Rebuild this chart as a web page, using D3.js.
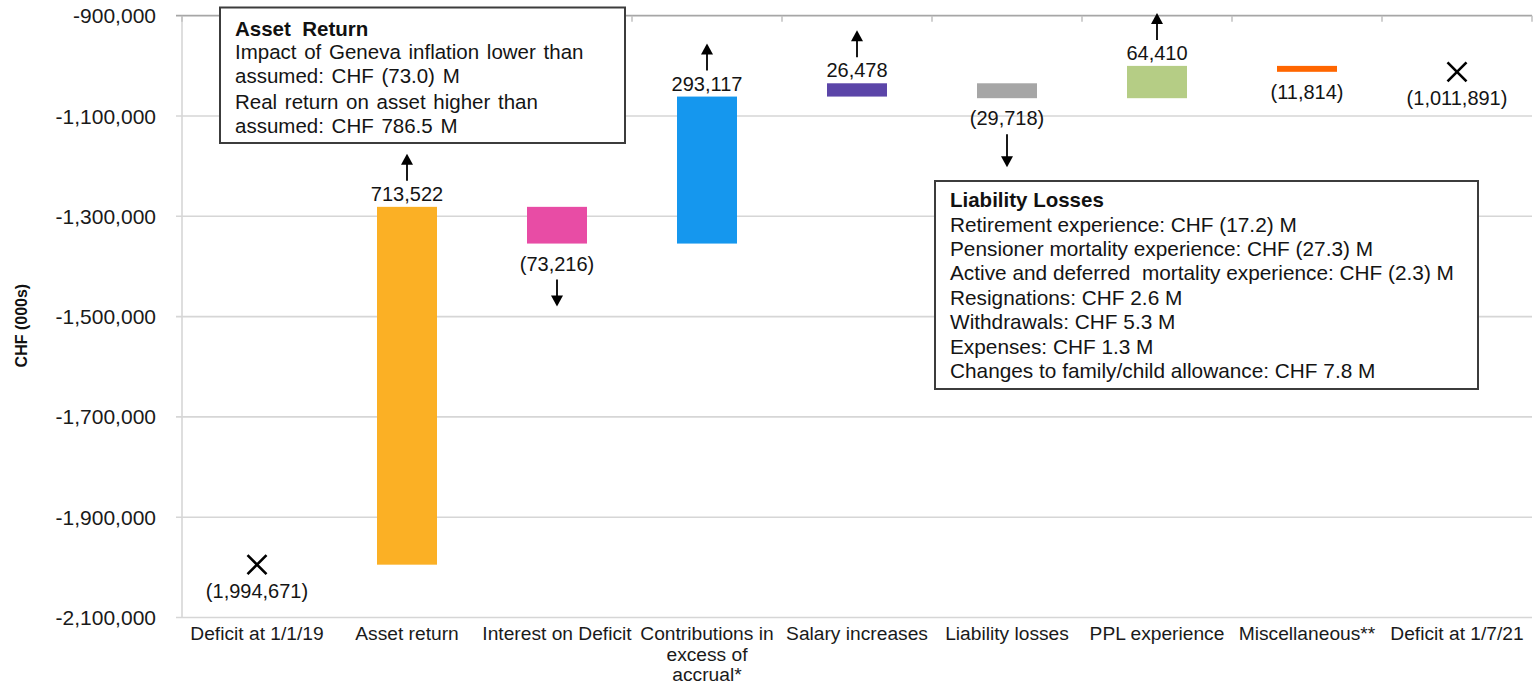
<!DOCTYPE html>
<html>
<head>
<meta charset="utf-8">
<script src="https://cdn.jsdelivr.net/npm/d3@7/dist/d3.min.js"></script>
<style>
  html, body { margin: 0; padding: 0; background: #fff; }
  svg { display: block; font-family: "Liberation Sans", Arial, sans-serif; }
  .pre { white-space: pre; }
</style>
</head>
<body>
<svg id="chart" width="1534" height="687"></svg>
<script>
// ---------------- data ----------------
const categories = [
  "Deficit at 1/1/19", "Asset return", "Interest on Deficit",
  "Contributions in\nexcess of\naccrual*", "Salary increases", "Liability losses",
  "PPL experience", "Miscellaneous**", "Deficit at 1/7/21"
];
const kinds = ["total", "step", "step", "step", "step", "step", "step", "step", "total"];
const values = [-1994671, 713522, -73216, 293117, 26478, -29718, 64410, -11814, -1011891];
const barColors = ["#000000", "#FBB025", "#E84CA5", "#1597EE", "#5B45A8", "#A6A6A6", "#B5CD85", "#FF6600", "#000000"];
const hasArrow = [false, true, true, true, true, true, true, false, false];
const yTicks = [-900000, -1100000, -1300000, -1500000, -1700000, -1900000, -2100000];
const yDomain = [-2100000, -900000];
const yTitle = "CHF (000s)";
const assetNoteTitle = "Asset  Return";
const assetNoteLines = [
  "Impact of Geneva inflation lower than",
  "assumed: CHF (73.0) M",
  "Real return on asset higher than",
  "assumed: CHF 786.5 M"
];
const liabNoteTitle = "Liability Losses";
const liabNoteLines = [
  "Retirement experience: CHF (17.2) M",
  "Pensioner mortality experience: CHF (27.3) M",
  "Active and deferred  mortality experience: CHF (2.3) M",
  "Resignations: CHF 2.6 M",
  "Withdrawals: CHF 5.3 M",
  "Expenses: CHF 1.3 M",
  "Changes to family/child allowance: CHF 7.8 M"
];

// ---------------- waterfall computation ----------------
let run = 0;
const rows = categories.map((c, i) => {
  const v = values[i];
  let start, end;
  if (kinds[i] === "total") { start = v; end = v; run = v; }
  else { start = run; end = run + v; run = end; }
  return { cat: c, v, start, end, kind: kinds[i], color: barColors[i], arrow: hasArrow[i] };
});

// ---------------- layout ----------------
const svg = d3.select("#chart");
const plotLeft = 182, plotRight = 1532, plotTop = 15.7, plotBottom = 617.5;

const x = d3.scaleBand().domain(categories).range([plotLeft, plotRight])
  .paddingInner(0.6).paddingOuter(0.3);
const y = d3.scaleLinear().domain(yDomain).range([plotBottom, plotTop]);

const loc = d3.formatLocale({ decimal: ".", thousands: ",", grouping: [3], currency: ["", ""], minus: "-" });
const fmt = loc.format(",");
const labelFmt = v => v < 0 ? "(" + fmt(-v) + ")" : fmt(v);

// gridlines + y tick marks
svg.append("g").selectAll("line").data(yTicks.filter(t => t !== yDomain[1])).join("line")
  .attr("x1", plotLeft - 6).attr("x2", plotRight)
  .attr("y1", d => y(d)).attr("y2", d => y(d))
  .attr("stroke", "#d6d6d6").attr("stroke-width", 1.6);

// vertical axis line
svg.append("line").attr("x1", plotLeft).attr("x2", plotLeft)
  .attr("y1", y(yDomain[1])).attr("y2", y(yDomain[0]))
  .attr("stroke", "#d6d6d6").attr("stroke-width", 1.6);

// category axis (sits at the top, max value)
const catAxisY = y(yDomain[1]);
svg.append("line").attr("x1", plotLeft - 6).attr("x2", plotRight)
  .attr("y1", catAxisY).attr("y2", catAxisY)
  .attr("stroke", "#a6a6a6").attr("stroke-width", 1.8);
const boundaries = d3.range(categories.length + 1).map(i => plotLeft + i * x.step());
svg.append("g").selectAll("line").data(boundaries).join("line")
  .attr("x1", d => d).attr("x2", d => d)
  .attr("y1", catAxisY).attr("y2", catAxisY + 6)
  .attr("stroke", "#c0c0c0").attr("stroke-width", 1.5);

// y tick labels
svg.append("g").selectAll("text").data(yTicks).join("text")
  .attr("x", 156).attr("y", d => y(d)).attr("dy", "0.36em")
  .attr("text-anchor", "end").attr("font-size", 21).attr("fill", "#1a1a1a")
  .text(d => fmt(d));

// y title
svg.append("text")
  .attr("transform", `translate(27,${(plotTop + plotBottom) / 2 + 9}) rotate(-90)`)
  .attr("text-anchor", "middle").attr("font-size", 16).attr("font-weight", "bold")
  .attr("fill", "#111").text(yTitle);

// category labels (low position, below the plot)
const catG = svg.append("g");
rows.forEach(r => {
  const t = catG.append("text").attr("text-anchor", "middle")
    .attr("font-size", 19.2).attr("fill", "#1a1a1a");
  r.cat.split("\n").forEach((ln, k) => {
    t.append("tspan").attr("x", x(r.cat) + x.bandwidth() / 2)
      .attr("y", 640 + k * 20.5).text(ln);
  });
});

// bars
const steps = rows.filter(r => r.kind === "step");
svg.append("g").selectAll("rect").data(steps).join("rect")
  .attr("x", d => x(d.cat)).attr("width", x.bandwidth())
  .attr("y", d => y(Math.max(d.start, d.end)))
  .attr("height", d => Math.abs(y(d.start) - y(d.end)))
  .attr("fill", d => d.color);

// total markers (X)
const totals = rows.filter(r => r.kind === "total");
svg.append("g").selectAll("path").data(totals).join("path")
  .attr("d", d => {
    const cx = x(d.cat) + x.bandwidth() / 2, cy = y(d.end), s = 9.5;
    return `M${cx - s},${cy - s}L${cx + s},${cy + s}M${cx - s},${cy + s}L${cx + s},${cy - s}`;
  })
  .attr("stroke", "#000").attr("stroke-width", 2.6).attr("fill", "none");

// data labels
const lab = svg.append("g").attr("font-size", 20).attr("fill", "#141414").attr("text-anchor", "middle");
rows.forEach(r => {
  const cx = x(r.cat) + x.bandwidth() / 2;
  let base;
  if (r.kind === "total") base = y(r.end) + 33;
  else if (r.v >= 0) base = y(Math.max(r.start, r.end)) - 6;
  else base = y(Math.min(r.start, r.end)) + 27;
  lab.append("text").attr("x", cx).attr("y", base).text(labelFmt(r.v));
  r.labelBase = base; r.cx = cx;
});

// arrows
const arrG = svg.append("g");
rows.filter(r => r.arrow).forEach(r => {
  let y0, y1;
  if (r.v >= 0) { y0 = r.labelBase - 20; y1 = y0 - 27; }
  else { y0 = r.labelBase + 9; y1 = y0 + (r.cat === "Liability losses" ? 33 : 27); }
  const dir = Math.sign(y1 - y0), head = 11, hw = 6;
  arrG.append("line").attr("x1", r.cx).attr("x2", r.cx)
    .attr("y1", y0).attr("y2", y1 - dir * head + dir * 1)
    .attr("stroke", "#000").attr("stroke-width", 1.8);
  arrG.append("path")
    .attr("d", `M${r.cx},${y1}L${r.cx - hw},${y1 - dir * head}L${r.cx + hw},${y1 - dir * head}Z`)
    .attr("fill", "#000");
});

// annotation boxes
function noteBox(bx, by, bw, bh, title, firstBase) {
  const g = svg.append("g");
  g.append("rect").attr("x", bx).attr("y", by).attr("width", bw).attr("height", bh)
    .attr("fill", "#fff").attr("stroke", "#3c3c3c").attr("stroke-width", 2);
  g.append("text").attr("class", "pre").attr("x", bx + 15).attr("y", firstBase).attr("font-size", 20.5)
    .attr("font-weight", "bold").attr("fill", "#111").text(title);
  return g;
}
{
  const g = noteBox(220, 7.5, 405, 135.5, assetNoteTitle, 36);
  const bases = [59, 83, 109, 133];
  assetNoteLines.forEach((ln, i) => {
    g.append("text").attr("x", 235).attr("y", bases[i]).attr("font-size", 20.5)
      .attr("word-spacing", 2).attr("fill", "#141414").text(ln);
  });
}
{
  const g = noteBox(935, 181, 543, 208, liabNoteTitle, 207);
  liabNoteLines.forEach((ln, i) => {
    g.append("text").attr("class", "pre").attr("x", 950).attr("y", 231.5 + i * 24.4).attr("font-size", 20.8)
      .attr("fill", "#141414").text(ln);
  });
}
</script>
</body>
</html>
